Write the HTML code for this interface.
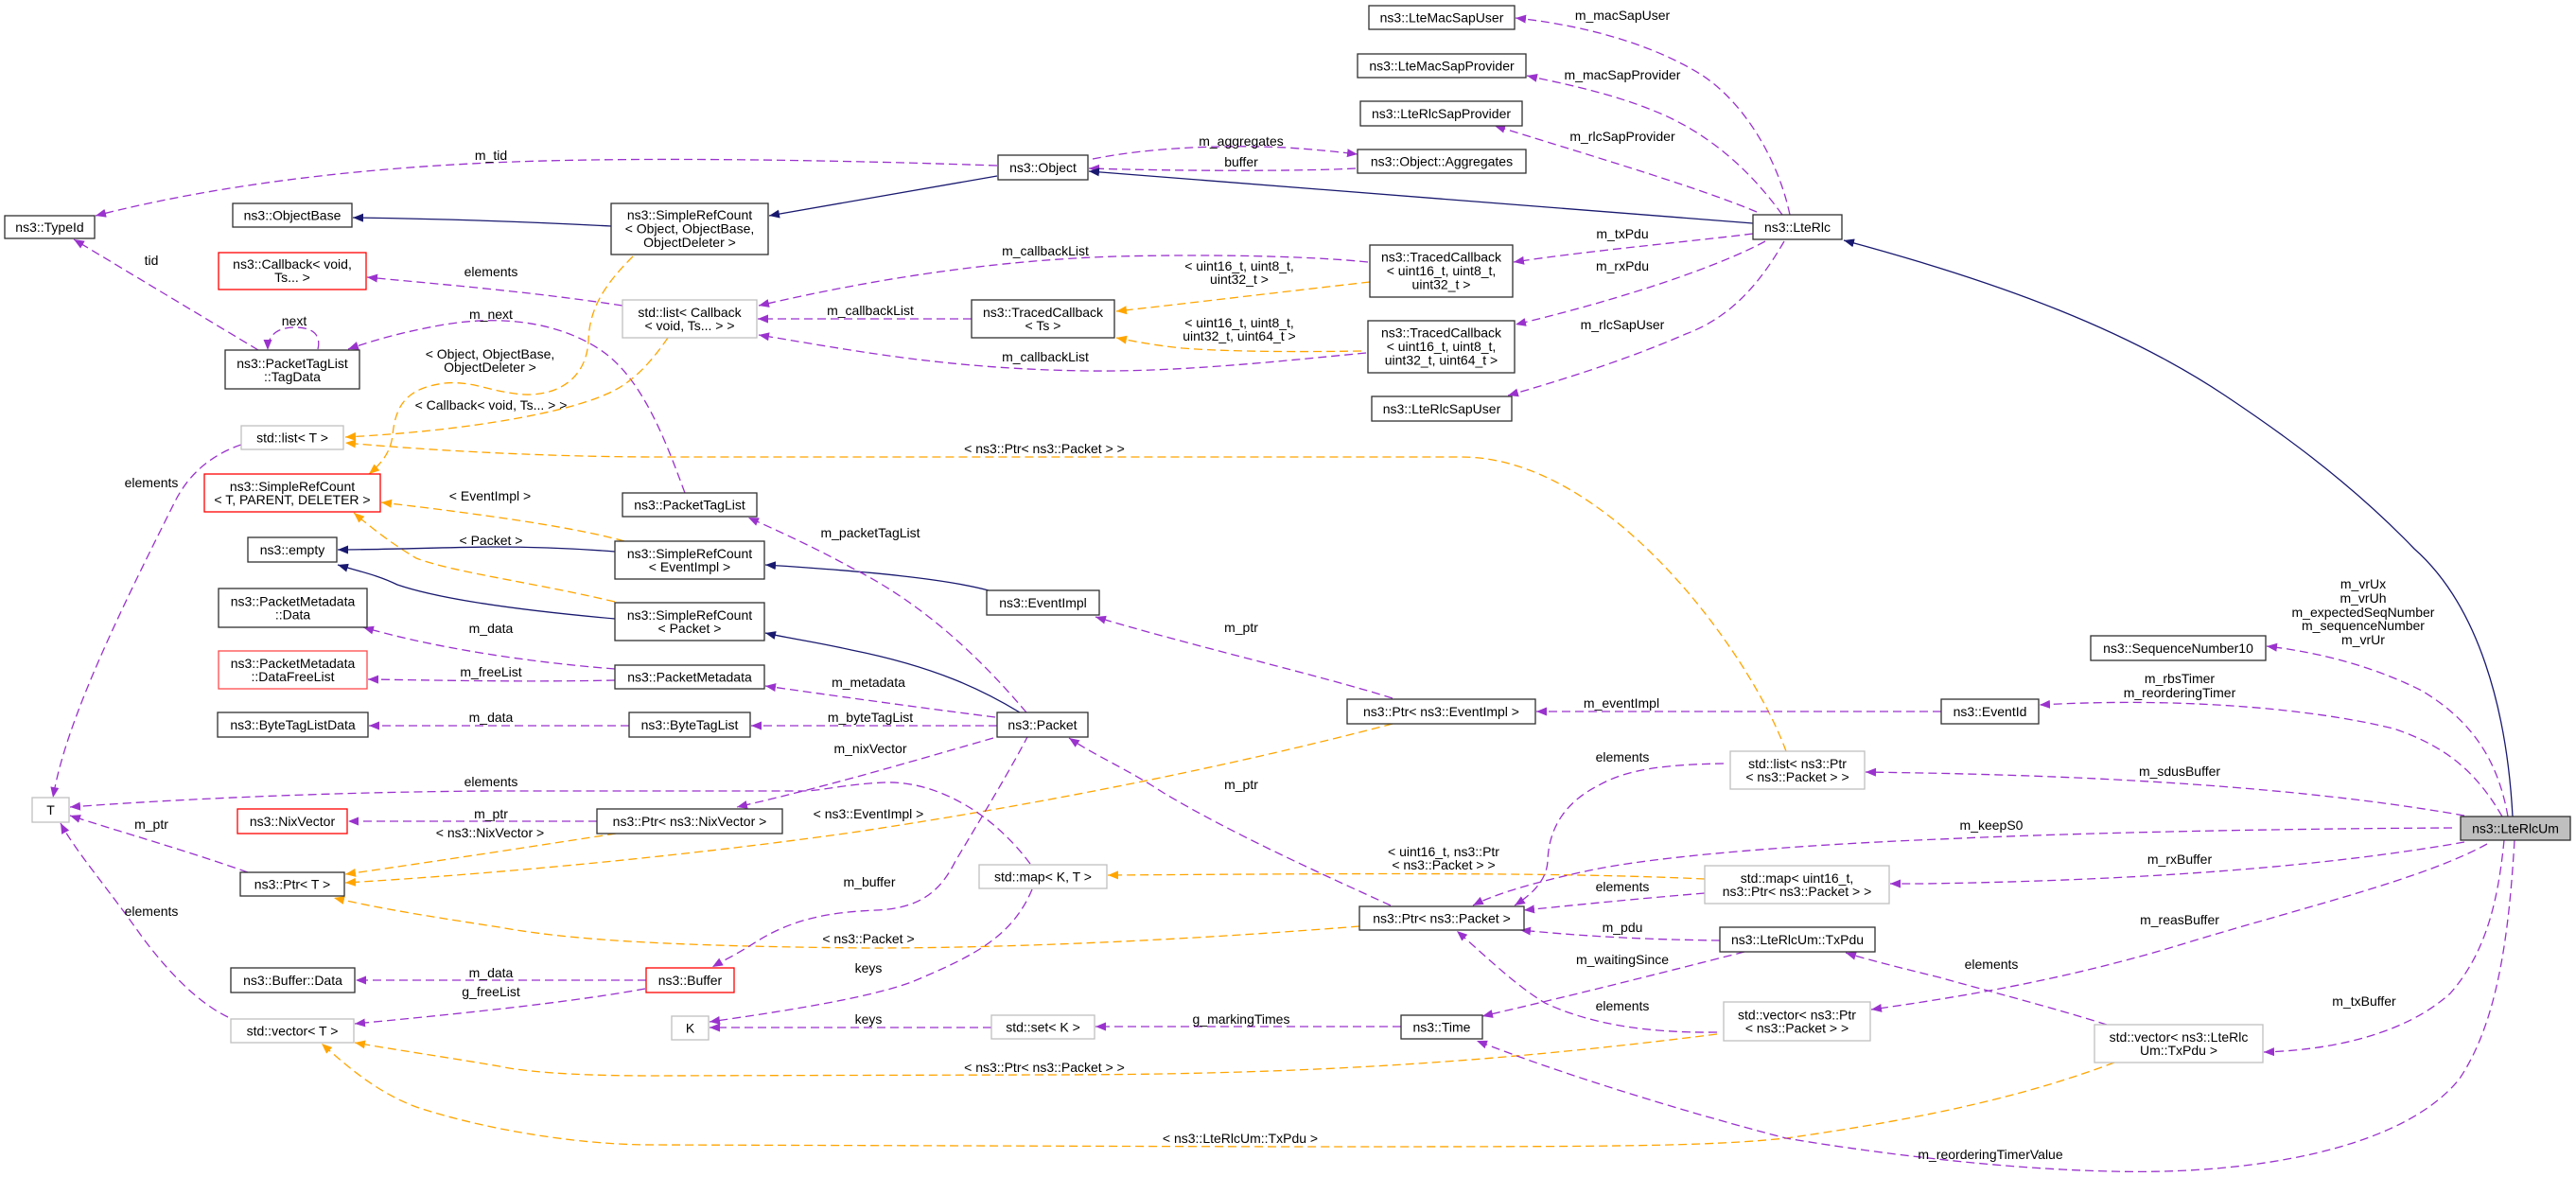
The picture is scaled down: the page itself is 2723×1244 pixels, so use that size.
<!DOCTYPE html>
<html><head><meta charset="utf-8"><style>
html,body{margin:0;padding:0;background:#fff;}
svg{display:block;}
text{font-family:"Liberation Sans",Arial,sans-serif;font-size:14px;fill:#000;}
.p{fill:none;stroke:#9a32cd;stroke-width:1.3;stroke-dasharray:9,5;}
.o{fill:none;stroke:#ffa500;stroke-width:1.3;stroke-dasharray:9,5;}
.n{fill:none;stroke:#191970;stroke-width:1.3;}
.b{fill:#fff;stroke:#303030;stroke-width:1.3;}
.g{fill:#fff;stroke:#bfbfbf;stroke-width:1.3;}
.r{fill:#fff;stroke:#ff0000;stroke-width:1.3;}
.r2{fill:#fff;stroke:#ff4a4a;stroke-width:1.3;}
</style></head><body>
<svg width="2723" height="1244" viewBox="0 0 2723 1244" xmlns="http://www.w3.org/2000/svg">
<defs>
<marker id="mp" markerWidth="12" markerHeight="10" refX="11" refY="4.5" orient="auto" markerUnits="userSpaceOnUse"><path d="M0,0 L11,4.5 L0,9 z" fill="#9a32cd"/></marker>
<marker id="mo" markerWidth="12" markerHeight="10" refX="11" refY="4.5" orient="auto" markerUnits="userSpaceOnUse"><path d="M0,0 L11,4.5 L0,9 z" fill="#ffa500"/></marker>
<marker id="mn" markerWidth="12" markerHeight="10" refX="11" refY="4.5" orient="auto" markerUnits="userSpaceOnUse"><path d="M0,0 L11,4.5 L0,9 z" fill="#191970"/></marker>
</defs>

<!-- edges -->
<g>
<path class="p" marker-end="url(#mp)" d="M1054,175 C850,168 650,166 519,172 C380,178 230,195 101,228"/>
<path class="p" marker-end="url(#mp)" d="M273,370 L78,253"/>
<path class="p" marker-end="url(#mp)" d="M336,369 C340,352 328,346 312,346 C296,346 283,352 283,370"/>
<path class="p" marker-end="url(#mp)" d="M724,521 C705,470 680,400 635,370 C590,340 530,333 470,343 C430,350 400,358 368,369"/>
<path class="p" marker-end="url(#mp)" d="M1892,227 C1880,170 1845,110 1800,80 C1740,42 1660,25 1602,19"/>
<path class="p" marker-end="url(#mp)" d="M1884,227 C1850,180 1810,145 1760,122 C1710,100 1660,90 1614,80"/>
<path class="p" marker-end="url(#mp)" d="M1857,224 C1800,200 1700,170 1580,133"/>
<path class="p" marker-end="url(#mp)" d="M1155,168 C1220,155 1300,153 1360,156 C1390,158 1410,160 1435,163"/>
<path class="p" marker-end="url(#mp)" d="M1433,178 C1380,181 1250,181 1151,178"/>
<path class="n" marker-end="url(#mn)" d="M1853,236 L1151,181"/>
<path class="n" marker-end="url(#mn)" d="M1054,186 L813,228"/>
<path class="n" marker-end="url(#mn)" d="M646,239 C550,234 450,231 373,230"/>
<path class="p" marker-end="url(#mp)" d="M658,323 C560,308 460,300 388,293"/>
<path class="p" marker-end="url(#mp)" d="M1027,337 L801,337"/>
<path class="p" marker-end="url(#mp)" d="M1446,277 C1400,272 1300,268 1180,271 C1020,276 880,305 802,323"/>
<path class="p" marker-end="url(#mp)" d="M1444,373 C1350,382 1250,393 1150,392 C1000,390 900,370 802,354"/>
<path class="o" marker-end="url(#mo)" d="M1448,298 C1360,308 1260,320 1180,329"/>
<path class="o" marker-end="url(#mo)" d="M1439,371 C1380,372 1300,372 1250,368 C1220,365 1200,361 1180,357"/>
<path class="p" marker-end="url(#mp)" d="M1853,247 C1780,256 1680,265 1600,277"/>
<path class="p" marker-end="url(#mp)" d="M1866,255 C1820,280 1720,315 1602,343"/>
<path class="p" marker-end="url(#mp)" d="M1886,255 C1860,300 1830,335 1782,353 C1720,380 1650,402 1594,418"/>
<path class="o" marker-end="url(#mo)" d="M669,271 C640,300 623,325 622,360 C620,400 590,418 555,417 C520,415 500,402 470,405 C430,410 418,428 415,460 C413,478 403,490 390,501"/>
<path class="o" marker-end="url(#mo)" d="M706,357 C690,380 670,405 640,417 C600,435 500,455 365,462"/>
<path class="o" marker-end="url(#mo)" d="M1888,794 C1850,690 1700,483 1545,483 L700,483 C560,483 430,474 365,468"/>
<path class="p" marker-end="url(#mp)" d="M255,470 C225,480 200,500 185,530 C130,640 70,760 56,843"/>
<path class="o" marker-end="url(#mo)" d="M660,572 C600,555 480,540 403,531"/>
<path class="o" marker-end="url(#mo)" d="M650,636 C560,615 480,605 440,590 C415,575 395,560 374,542"/>
<path class="n" marker-end="url(#mn)" d="M650,583 C600,579 560,578 520,578 C450,579 400,581 357,581"/>
<path class="n" marker-end="url(#mn)" d="M650,654 C560,646 470,635 420,618 C400,608 380,604 357,597"/>
<path class="n" marker-end="url(#mn)" d="M1045,624 C1000,612 920,604 809,597"/>
<path class="n" marker-end="url(#mn)" d="M1078,753 C1040,730 990,705 900,687 C860,678 830,674 809,669"/>
<path class="p" marker-end="url(#mp)" d="M1085,753 C1040,700 980,640 900,600 C860,578 820,560 791,547"/>
<path class="p" marker-end="url(#mp)" d="M1052,758 C950,745 880,735 809,725"/>
<path class="p" marker-end="url(#mp)" d="M1054,767 L794,767"/>
<path class="p" marker-end="url(#mp)" d="M650,707 C560,700 460,685 384,663"/>
<path class="p" marker-end="url(#mp)" d="M650,719 C560,721 460,719 389,718"/>
<path class="p" marker-end="url(#mp)" d="M665,767 L390,767"/>
<path class="p" marker-end="url(#mp)" d="M1050,780 C980,800 880,830 779,853"/>
<path class="p" marker-end="url(#mp)" d="M631,868 L368,868"/>
<path class="o" marker-end="url(#mo)" d="M651,881 C560,895 450,912 365,924"/>
<path class="o" marker-end="url(#mo)" d="M1472,765 C1300,810 1100,850 900,880 C700,908 500,925 365,933"/>
<path class="o" marker-end="url(#mo)" d="M1437,979 C1300,990 1100,1002 918,1002 C700,1000 600,993 528,980 C450,968 400,960 353,949"/>
<path class="p" marker-end="url(#mp)" d="M262,922 C200,900 130,880 74,862"/>
<path class="p" marker-end="url(#mp)" d="M241,1075 C210,1060 180,1030 150,990 C115,940 80,900 64,870"/>
<path class="p" marker-end="url(#mp)" d="M683,1036 L376,1036"/>
<path class="p" marker-end="url(#mp)" d="M682,1045 C600,1060 480,1072 375,1082"/>
<path class="p" marker-end="url(#mp)" d="M1087,777 C1070,810 1040,860 1010,910 C995,940 975,960 926,962 C880,964 840,970 800,995 C780,1008 765,1015 753,1022"/>
<path class="p" marker-end="url(#mp)" d="M1089,913 C1050,860 990,825 935,827 C890,829 870,836 847,836 L519,836 C350,837 180,845 74,853"/>
<path class="p" marker-end="url(#mp)" d="M1091,940 C1070,990 1030,1010 966,1037 C920,1055 820,1070 750,1080"/>
<path class="p" marker-end="url(#mp)" d="M1048,1086 L750,1086"/>
<path class="p" marker-end="url(#mp)" d="M1481,1085 L1158,1085"/>
<path class="o" marker-end="url(#mo)" d="M1802,929 C1650,922 1450,923 1171,925"/>
<path class="p" marker-end="url(#mp)" d="M1802,944 C1730,950 1680,955 1611,962"/>
<path class="p" marker-end="url(#mp)" d="M1818,994 C1740,993 1680,990 1607,983"/>
<path class="p" marker-end="url(#mp)" d="M1844,1006 C1750,1030 1650,1055 1567,1074"/>
<path class="p" marker-end="url(#mp)" d="M1815,1091 C1740,1092 1680,1082 1633,1060 C1600,1040 1570,1010 1540,984"/>
<path class="o" marker-end="url(#mo)" d="M1815,1093 C1600,1120 1400,1136 1104,1136 L690,1137 C600,1137 550,1132 528,1127 C470,1117 420,1110 375,1102"/>
<path class="o" marker-end="url(#mo)" d="M2235,1123 C2150,1155 2050,1180 1888,1203 C1800,1212 1700,1212 1360,1212 L690,1210 C600,1210 500,1190 440,1170 C400,1155 370,1130 340,1103"/>
<path class="p" marker-end="url(#mp)" d="M2227,1083 C2170,1065 2100,1047 2050,1033 C2010,1023 1980,1016 1951,1007"/>
<path class="p" marker-end="url(#mp)" d="M2658,888 C2652,990 2640,1080 2600,1140 C2540,1215 2380,1242 2231,1238 C2100,1235 1960,1215 1888,1203 C1780,1175 1650,1135 1561,1100"/>
<path class="p" marker-end="url(#mp)" d="M2647,888 C2640,960 2625,1010 2590,1050 C2540,1095 2460,1110 2393,1112"/>
<path class="p" marker-end="url(#mp)" d="M2629,892 C2560,930 2430,960 2300,1000 C2200,1030 2100,1050 1978,1067"/>
<path class="p" marker-end="url(#mp)" d="M2605,890 C2480,912 2300,930 2033,934 L1998,934"/>
<path class="p" marker-end="url(#mp)" d="M2592,875 C2400,876 2200,880 2050,887 C1900,893 1750,905 1680,920 C1620,933 1580,945 1557,957"/>
<path class="p" marker-end="url(#mp)" d="M2605,862 C2480,840 2300,822 2033,817 L1972,816"/>
<path class="p" marker-end="url(#mp)" d="M1822,807 C1760,808 1720,813 1690,830 C1650,850 1637,880 1636,910 C1635,930 1620,945 1601,957"/>
<path class="p" marker-end="url(#mp)" d="M2645,863 C2620,820 2590,790 2530,770 C2440,748 2300,737 2156,745"/>
<path class="p" marker-end="url(#mp)" d="M2651,863 C2640,800 2610,760 2560,730 C2500,700 2440,688 2396,683"/>
<path class="p" marker-end="url(#mp)" d="M2052,752 L1624,752"/>
<path class="p" marker-end="url(#mp)" d="M1472,738 C1400,715 1250,680 1158,652"/>
<path class="p" marker-end="url(#mp)" d="M1470,957 C1400,925 1300,880 1230,838 C1190,812 1160,800 1130,780"/>
<path class="n" marker-end="url(#mn)" d="M2656,863 C2650,750 2620,640 2552,580 C2480,505 2400,450 2352,418 C2250,350 2120,300 1949,254"/>
</g>

<!-- nodes -->
<g text-anchor="middle">
<rect class="b" x="5" y="228" width="95" height="24"/><text x="52.5" y="245">ns3::TypeId</text>
<rect class="b" x="246" y="215" width="126" height="25"/><text x="309" y="232.5">ns3::ObjectBase</text>
<rect class="b" x="646" y="215" width="166" height="54"/><text x="729" y="232">ns3::SimpleRefCount</text><text x="729" y="246.5">&lt; Object, ObjectBase,</text><text x="729" y="261">ObjectDeleter &gt;</text>
<rect class="b" x="1055" y="164" width="95" height="26"/><text x="1102.5" y="182">ns3::Object</text>
<rect class="r" x="231" y="267" width="156" height="39"/><text x="309" y="284">ns3::Callback&lt; void,</text><text x="309" y="298">Ts... &gt;</text>
<rect class="g" x="658" y="317" width="142" height="40"/><text x="729" y="335">std::list&lt; Callback</text><text x="729" y="349">&lt; void, Ts... &gt; &gt;</text>
<rect class="b" x="238" y="370" width="142" height="41"/><text x="309" y="389">ns3::PacketTagList</text><text x="309" y="403">::TagData</text>
<rect class="b" x="1027" y="317" width="151" height="40"/><text x="1102.5" y="335">ns3::TracedCallback</text><text x="1102.5" y="349">&lt; Ts &gt;</text>
<rect class="b" x="1447" y="6" width="154" height="25"/><text x="1524" y="23.5">ns3::LteMacSapUser</text>
<rect class="b" x="1435" y="57" width="178" height="25"/><text x="1524" y="74.5">ns3::LteMacSapProvider</text>
<rect class="b" x="1438" y="107" width="171" height="26"/><text x="1523.5" y="125">ns3::LteRlcSapProvider</text>
<rect class="b" x="1435" y="158" width="178" height="25"/><text x="1524" y="175.5">ns3::Object::Aggregates</text>
<rect class="b" x="1853" y="227" width="94" height="26"/><text x="1900" y="245">ns3::LteRlc</text>
<rect class="b" x="1448" y="259" width="151" height="55"/><text x="1523.5" y="276.5">ns3::TracedCallback</text><text x="1523.5" y="291">&lt; uint16_t, uint8_t,</text><text x="1523.5" y="305.5">uint32_t &gt;</text>
<rect class="b" x="1446" y="339" width="155" height="55"/><text x="1523.5" y="356.5">ns3::TracedCallback</text><text x="1523.5" y="371">&lt; uint16_t, uint8_t,</text><text x="1523.5" y="385.5">uint32_t, uint64_t &gt;</text>
<rect class="b" x="1450" y="419" width="148" height="26"/><text x="1524" y="437">ns3::LteRlcSapUser</text>
<rect class="g" x="255" y="450" width="108" height="25"/><text x="309" y="467.5">std::list&lt; T &gt;</text>
<rect class="r" x="216" y="501" width="186" height="40"/><text x="309" y="519">ns3::SimpleRefCount</text><text x="309" y="533">&lt; T, PARENT, DELETER &gt;</text>
<rect class="b" x="262" y="568" width="94" height="26"/><text x="309" y="586">ns3::empty</text>
<rect class="b" x="231" y="622" width="157" height="41"/><text x="309.5" y="640.5">ns3::PacketMetadata</text><text x="309.5" y="654.5">::Data</text>
<rect class="r2" x="231" y="688" width="157" height="40"/><text x="309.5" y="706">ns3::PacketMetadata</text><text x="309.5" y="720">::DataFreeList</text>
<rect class="b" x="230" y="753" width="159" height="26"/><text x="309.5" y="771">ns3::ByteTagListData</text>
<rect class="b" x="658" y="521" width="142" height="25"/><text x="729" y="538.5">ns3::PacketTagList</text>
<rect class="b" x="650" y="572" width="158" height="40"/><text x="729" y="590">ns3::SimpleRefCount</text><text x="729" y="604">&lt; EventImpl &gt;</text>
<rect class="b" x="650" y="637" width="158" height="40"/><text x="729" y="655">ns3::SimpleRefCount</text><text x="729" y="669">&lt; Packet &gt;</text>
<rect class="b" x="650" y="703" width="158" height="25"/><text x="729" y="720.5">ns3::PacketMetadata</text>
<rect class="b" x="665" y="753" width="128" height="26"/><text x="729" y="771">ns3::ByteTagList</text>
<rect class="b" x="1043" y="624" width="119" height="26"/><text x="1102.5" y="642">ns3::EventImpl</text>
<rect class="b" x="1054" y="753" width="96" height="26"/><text x="1102" y="771">ns3::Packet</text>
<rect class="b" x="1424" y="739" width="199" height="26"/><text x="1523.5" y="757">ns3::Ptr&lt; ns3::EventImpl &gt;</text>
<rect class="g" x="1829" y="794" width="142" height="40"/><text x="1900" y="812">std::list&lt; ns3::Ptr</text><text x="1900" y="826">&lt; ns3::Packet &gt; &gt;</text>
<rect class="b" x="2210" y="672" width="185" height="26"/><text x="2302.5" y="690">ns3::SequenceNumber10</text>
<rect class="b" x="2052" y="739" width="103" height="26"/><text x="2103.5" y="757">ns3::EventId</text>
<rect x="2601" y="863" width="116" height="25" fill="#bfbfbf" stroke="#303030" stroke-width="1.3"/><text x="2659" y="880.5">ns3::LteRlcUm</text>
<rect class="g" x="34" y="843" width="39" height="26"/><text x="53.5" y="861">T</text>
<rect class="r" x="251" y="855" width="116" height="26"/><text x="309" y="873">ns3::NixVector</text>
<rect class="b" x="254" y="922" width="110" height="25"/><text x="309" y="939.5">ns3::Ptr&lt; T &gt;</text>
<rect class="b" x="244" y="1023" width="131" height="26"/><text x="309.5" y="1041">ns3::Buffer::Data</text>
<rect class="g" x="244" y="1077" width="130" height="25"/><text x="309" y="1094.5">std::vector&lt; T &gt;</text>
<rect class="b" x="631" y="855" width="196" height="26"/><text x="729" y="873">ns3::Ptr&lt; ns3::NixVector &gt;</text>
<rect class="r" x="683" y="1023" width="93" height="26"/><text x="729.5" y="1041">ns3::Buffer</text>
<rect class="g" x="1035" y="914" width="135" height="25"/><text x="1102.5" y="931.5">std::map&lt; K, T &gt;</text>
<rect class="g" x="710" y="1074" width="39" height="25"/><text x="729.5" y="1091.5">K</text>
<rect class="g" x="1048" y="1073" width="109" height="25"/><text x="1102.5" y="1090.5">std::set&lt; K &gt;</text>
<rect class="b" x="1437" y="958" width="174" height="25"/><text x="1524" y="975.5">ns3::Ptr&lt; ns3::Packet &gt;</text>
<rect class="g" x="1802" y="915" width="195" height="40"/><text x="1899.5" y="933">std::map&lt; uint16_t,</text><text x="1899.5" y="947">ns3::Ptr&lt; ns3::Packet &gt; &gt;</text>
<rect class="b" x="1818" y="980" width="164" height="26"/><text x="1900" y="998">ns3::LteRlcUm::TxPdu</text>
<rect class="b" x="1481" y="1073" width="86" height="25"/><text x="1524" y="1090.5">ns3::Time</text>
<rect class="g" x="1822" y="1059" width="155" height="41"/><text x="1899.5" y="1077.5">std::vector&lt; ns3::Ptr</text><text x="1899.5" y="1091.5">&lt; ns3::Packet &gt; &gt;</text>
<rect class="g" x="2214" y="1083" width="178" height="40"/><text x="2303" y="1101">std::vector&lt; ns3::LteRlc</text><text x="2303" y="1115">Um::TxPdu &gt;</text>
</g>

<!-- labels -->
<g text-anchor="middle">
<text x="519" y="169">m_tid</text>
<text x="160" y="280">tid</text>
<text x="519" y="292">elements</text>
<text x="311" y="344">next</text>
<text x="519" y="337">m_next</text>
<text x="518" y="379">&lt; Object, ObjectBase,</text>
<text x="518" y="393">ObjectDeleter &gt;</text>
<text x="1312" y="154">m_aggregates</text>
<text x="1312" y="176">buffer</text>
<text x="1105" y="270">m_callbackList</text>
<text x="1310" y="286">&lt; uint16_t, uint8_t,</text>
<text x="1310" y="300">uint32_t &gt;</text>
<text x="920" y="333">m_callbackList</text>
<text x="1310" y="346">&lt; uint16_t, uint8_t,</text>
<text x="1310" y="360">uint32_t, uint64_t &gt;</text>
<text x="1105" y="382">m_callbackList</text>
<text x="1715" y="21">m_macSapUser</text>
<text x="1715" y="84">m_macSapProvider</text>
<text x="1715" y="149">m_rlcSapProvider</text>
<text x="1715" y="252">m_txPdu</text>
<text x="1715" y="286">m_rxPdu</text>
<text x="1715" y="348">m_rlcSapUser</text>
<text x="519" y="433">&lt; Callback&lt; void, Ts... &gt; &gt;</text>
<text x="160" y="515">elements</text>
<text x="518" y="529">&lt; EventImpl &gt;</text>
<text x="519" y="576">&lt; Packet &gt;</text>
<text x="519" y="669">m_data</text>
<text x="519" y="715">m_freeList</text>
<text x="519" y="763">m_data</text>
<text x="519" y="831">elements</text>
<text x="1104" y="479">&lt; ns3::Ptr&lt; ns3::Packet &gt; &gt;</text>
<text x="920" y="568">m_packetTagList</text>
<text x="1312" y="668">m_ptr</text>
<text x="918" y="726">m_metadata</text>
<text x="920" y="763">m_byteTagList</text>
<text x="920" y="796">m_nixVector</text>
<text x="1714" y="748">m_eventImpl</text>
<text x="1715" y="805">elements</text>
<text x="2498" y="622">m_vrUx</text>
<text x="2498" y="637">m_vrUh</text>
<text x="2498" y="652">m_expectedSeqNumber</text>
<text x="2498" y="666">m_sequenceNumber</text>
<text x="2498" y="681">m_vrUr</text>
<text x="2304" y="722">m_rbsTimer</text>
<text x="2304" y="737">m_reorderingTimer</text>
<text x="2304" y="820">m_sdusBuffer</text>
<text x="2105" y="877">m_keepS0</text>
<text x="2304" y="913">m_rxBuffer</text>
<text x="2304" y="977">m_reasBuffer</text>
<text x="519" y="865">m_ptr</text>
<text x="518" y="885">&lt; ns3::NixVector &gt;</text>
<text x="160" y="876">m_ptr</text>
<text x="160" y="968">elements</text>
<text x="519" y="1033">m_data</text>
<text x="519" y="1053">g_freeList</text>
<text x="1312" y="834">m_ptr</text>
<text x="918" y="865">&lt; ns3::EventImpl &gt;</text>
<text x="919" y="937">m_buffer</text>
<text x="918" y="997">&lt; ns3::Packet &gt;</text>
<text x="918" y="1028">keys</text>
<text x="918" y="1082">keys</text>
<text x="1312" y="1082">g_markingTimes</text>
<text x="1104" y="1133">&lt; ns3::Ptr&lt; ns3::Packet &gt; &gt;</text>
<text x="1311" y="1208">&lt; ns3::LteRlcUm::TxPdu &gt;</text>
<text x="1526" y="905">&lt; uint16_t, ns3::Ptr</text>
<text x="1526" y="919">&lt; ns3::Packet &gt; &gt;</text>
<text x="1715" y="942">elements</text>
<text x="1715" y="985">m_pdu</text>
<text x="1715" y="1019">m_waitingSince</text>
<text x="1715" y="1068">elements</text>
<text x="2104" y="1225">m_reorderingTimerValue</text>
<text x="2105" y="1024">elements</text>
<text x="2499" y="1063">m_txBuffer</text>
</g>
</svg>
</body></html>
